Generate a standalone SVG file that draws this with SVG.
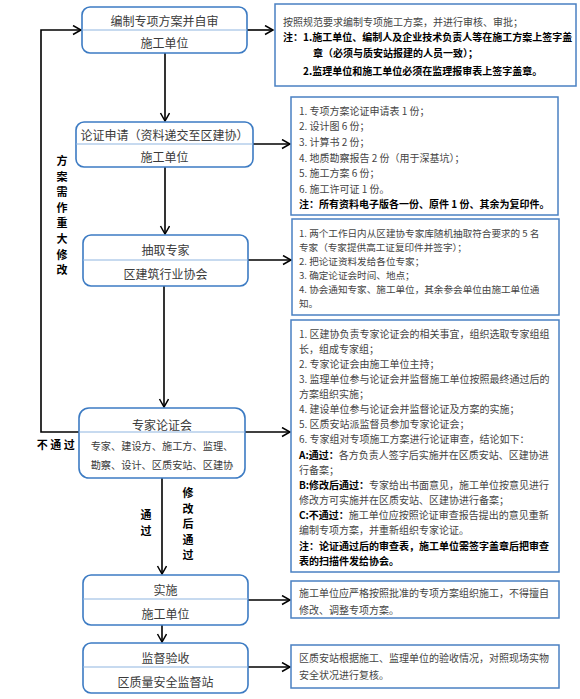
<svg xmlns="http://www.w3.org/2000/svg" width="580" height="699" viewBox="0 0 580 699">
<defs>
<marker id="arr" markerUnits="userSpaceOnUse" markerWidth="12" markerHeight="12" refX="9" refY="5" orient="auto">
<path d="M1,0.5 L9,5 L1,9.5" fill="none" stroke="#000" stroke-width="1.5"/>
</marker>
<style>
.node{fill:#fff;stroke:#3c7bc3;stroke-width:1.6}
.div{stroke:#8fb5e0;stroke-width:1}
.box{fill:#fff;stroke:#4a80c2;stroke-width:1.5}
.nt{font-family:"Noto Sans CJK SC","Noto Sans",sans-serif;font-size:12px;fill:#3a3a3a;text-anchor:middle;dominant-baseline:central}
.ns{font-family:"Noto Sans CJK SC","Noto Sans",sans-serif;font-size:10.2px;fill:#3a3a3a;text-anchor:middle;dominant-baseline:central}
.bt{font-family:"Noto Sans CJK SC","Noto Sans",sans-serif;font-size:10px;fill:#444;dominant-baseline:central}
.b3{font-size:9.6px}
.b{font-weight:bold;fill:#000}
.lbl{font-family:"Noto Sans CJK SC","Noto Sans",sans-serif;font-size:11px;font-weight:bold;fill:#000;text-anchor:middle;dominant-baseline:central}
.ln{fill:none;stroke:#000;stroke-width:1.6}
</style>
</defs>
<rect width="580" height="699" fill="#fff"/>

<g id="connectors">
<path class="ln" d="M165,53 V121" marker-end="url(#arr)"/>
<path class="ln" d="M165,167 V234" marker-end="url(#arr)"/>
<path class="ln" d="M164,286 V407" marker-end="url(#arr)"/>
<path class="ln" d="M162,478 V574" marker-end="url(#arr)"/>
<path class="ln" d="M162,625 V642" marker-end="url(#arr)"/>
<path class="ln" d="M79,432 H41 V30 H81" marker-end="url(#arr)"/>
<path class="ln" d="M247,30 H273" marker-end="url(#arr)"/>
<path class="ln" d="M253,144 H290" marker-end="url(#arr)"/>
<path class="ln" d="M248,260 H291" marker-end="url(#arr)"/>
<path class="ln" d="M245,432 H290" marker-end="url(#arr)"/>
<path class="ln" d="M248,600 H290" marker-end="url(#arr)"/>
<path class="ln" d="M248,667 H290" marker-end="url(#arr)"/>
<text class="lbl" x="62"><tspan x="62" y="160">方</tspan><tspan x="62" y="175.5">案</tspan><tspan x="62" y="191">需</tspan><tspan x="62" y="206.5">作</tspan><tspan x="62" y="222">重</tspan><tspan x="62" y="238">大</tspan><tspan x="62" y="254">修</tspan><tspan x="62" y="269">改</tspan></text>
<text class="lbl" x="57" y="444" letter-spacing="2.5">不通过</text>
<text class="lbl"><tspan x="146" y="514">通</tspan><tspan x="146" y="530">过</tspan></text>
<text class="lbl"><tspan x="188" y="492">修</tspan><tspan x="188" y="508">改</tspan><tspan x="188" y="523">后</tspan><tspan x="188" y="539">通</tspan><tspan x="188" y="554">过</tspan></text>
</g>

<g id="n1">
<rect class="node" x="82" y="7" width="165" height="46" rx="8"/>
<line class="div" x1="82" y1="30" x2="247" y2="30"/>
<text class="nt" x="164.5" y="20">编制专项方案并自审</text>
<text class="nt" x="164.5" y="42">施工单位</text>
</g>
<g id="n2">
<rect class="node" x="76" y="122" width="177" height="45" rx="8"/>
<line class="div" x1="76" y1="144" x2="253" y2="144"/>
<text class="nt" x="164.5" y="134" font-size="11.3">论证申请（资料递交至区建协）</text>
<text class="nt" x="164.5" y="156">施工单位</text>
</g>
<g id="n3">
<rect class="node" x="83" y="235" width="165" height="51" rx="8"/>
<line class="div" x1="83" y1="260" x2="248" y2="260"/>
<text class="nt" x="165.5" y="249">抽取专家</text>
<text class="nt" x="165.5" y="273">区建筑行业协会</text>
</g>
<g id="n4">
<rect class="node" x="79" y="408" width="166" height="70" rx="10"/>
<line class="div" x1="79" y1="432" x2="245" y2="432"/>
<text class="nt" x="162" y="424">专家论证会</text>
<text class="ns" x="162" y="445">专家、建设方、施工方、监理、</text>
<text class="ns" x="162" y="464">勘察、设计、区质安站、区建协</text>
</g>
<g id="n5">
<rect class="node" x="83" y="575" width="165" height="50" rx="8"/>
<line class="div" x1="83" y1="599" x2="248" y2="599"/>
<text class="nt" x="165.5" y="589">实施</text>
<text class="nt" x="165.5" y="613">施工单位</text>
</g>
<g id="n6">
<rect class="node" x="83" y="643" width="165" height="50" rx="8"/>
<line class="div" x1="83" y1="667" x2="248" y2="667"/>
<text class="nt" x="165.5" y="657">监督验收</text>
<text class="nt" x="165.5" y="681">区质量安全监督站</text>
</g>

<g id="b1">
<rect class="box" x="275" y="4" width="301" height="82"/>
<text class="bt" x="283" y="21">按照规范要求编制专项施工方案，并进行审核、审批；</text>
<text class="bt b" x="283" y="36">注：1.施工单位、编制人及企业技术负责人等在施工方案上签字盖</text>
<text class="bt b" x="313" y="52">章（必须与质安站报建的人员一致）；</text>
<text class="bt b" x="303" y="70">2.监理单位和施工单位必须在监理报审表上签字盖章。</text>
</g>
<g id="b2">
<rect class="box" x="291" y="97" width="267" height="118"/>
<text class="bt" x="299" y="110">1. 专项方案论证申请表 1 份；</text>
<text class="bt" x="299" y="125.5">2. 设计图 6 份；</text>
<text class="bt" x="299" y="141">3. 计算书 2 份；</text>
<text class="bt" x="299" y="157">4. 地质勘察报告 2 份（用于深基坑）；</text>
<text class="bt" x="299" y="172.5">5. 施工方案 6 份；</text>
<text class="bt" x="299" y="188">6. 施工许可证 1 份。</text>
<text class="bt b" x="299" y="203.5">注：所有资料电子版各一份、原件 1 份、其余为复印件。</text>
</g>
<g id="b3">
<rect class="box" x="292" y="219" width="267" height="96"/>
<text class="bt b3" x="299" y="232.5">1. 两个工作日内从区建协专家库随机抽取符合要求的 5 名</text>
<text class="bt b3" x="299" y="246.5">专家（专家提供高工证复印件并签字）；</text>
<text class="bt b3" x="299" y="260.5">2. 把论证资料发给各位专家；</text>
<text class="bt b3" x="299" y="274.5">3. 确定论证会时间、地点；</text>
<text class="bt b3" x="299" y="288.5">4. 协会通知专家、施工单位，其余参会单位由施工单位通</text>
<text class="bt b3" x="299" y="302.5">知。</text>
</g>
<g id="b4">
<rect class="box" x="291" y="320" width="268" height="252"/>
<text class="bt" x="299" y="333">1. 区建协负责专家论证会的相关事宜，组织选取专家组组</text>
<text class="bt" x="299" y="348">长，组成专家组；</text>
<text class="bt" x="299" y="363">2. 专家论证会由施工单位主持；</text>
<text class="bt" x="299" y="378">3. 监理单位参与论证会并监督施工单位按照最终通过后的</text>
<text class="bt" x="299" y="393">方案组织实施；</text>
<text class="bt" x="299" y="408">4. 建设单位参与论证会并监督论证及方案的实施；</text>
<text class="bt" x="299" y="423">5. 区质安站派监督员参加专家论证会；</text>
<text class="bt" x="299" y="438">6. 专家组对专项施工方案进行论证审查，结论如下：</text>
<text class="bt" x="299" y="454"><tspan class="b">A:通过：</tspan>各方负责人签字后实施并在区质安站、区建协进</text>
<text class="bt" x="299" y="469">行备案；</text>
<text class="bt" x="299" y="484"><tspan class="b">B:修改后通过：</tspan>专家给出书面意见，施工单位按意见进行</text>
<text class="bt" x="299" y="499">修改方可实施并在区质安站、区建协进行备案；</text>
<text class="bt" x="299" y="514"><tspan class="b">C:不通过：</tspan>施工单位应按照论证审查报告提出的意见重新</text>
<text class="bt" x="299" y="529">编制专项方案，并重新组织专家论证。</text>
<text class="bt b" x="299" y="545">注：论证通过后的审查表，施工单位需签字盖章后把审查</text>
<text class="bt b" x="299" y="560">表的扫描件发给协会。</text>
</g>
<g id="b5">
<rect class="box" x="291" y="581" width="268" height="37"/>
<text class="bt" x="299" y="592">施工单位应严格按照批准的专项方案组织施工，不得擅自</text>
<text class="bt" x="299" y="609">修改、调整专项方案。</text>
</g>
<g id="b6">
<rect class="box" x="291" y="645" width="268" height="43"/>
<text class="bt" x="299" y="657">区质安站根据施工、监理单位的验收情况，对照现场实物</text>
<text class="bt" x="299" y="674">安全状况进行复核。</text>
</g>
</svg>
